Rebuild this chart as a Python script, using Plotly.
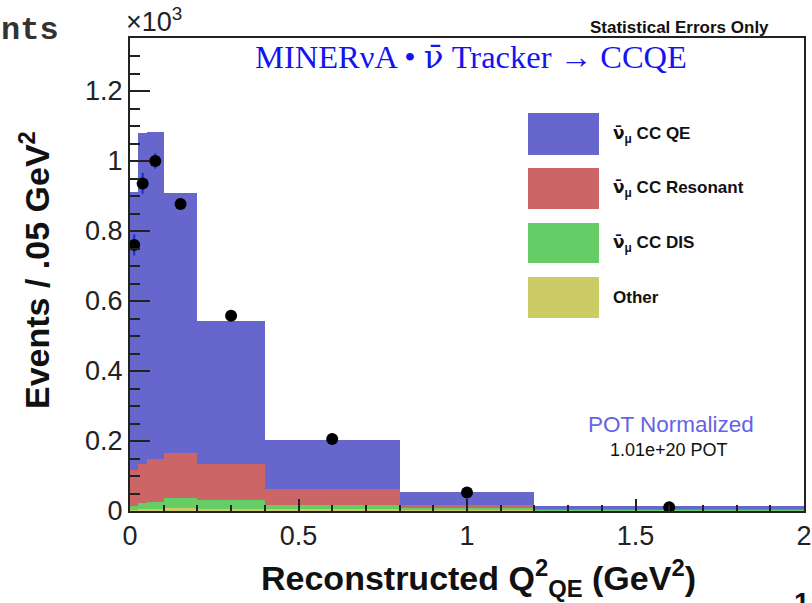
import plotly.graph_objects as go

# ---------------- data (units of 10^3 events) ----------------
bin_edges = [0.0, 0.025, 0.05, 0.1, 0.2, 0.4, 0.8, 1.2, 2.0]
qe_vals = [0.794, 0.946, 0.935, 0.742, 0.409, 0.140, 0.038, 0.008]
res_vals = [0.103, 0.112, 0.122, 0.130, 0.103, 0.046, 0.009, 0.002]
dis_vals = [0.010, 0.017, 0.021, 0.029, 0.024, 0.012, 0.005, 0.002]
other_vals = [0.004, 0.005, 0.006, 0.008, 0.007, 0.005, 0.003, 0.002]
data_vals = [0.760, 0.936, 1.000, 0.877, 0.558, 0.206, 0.053, 0.011]
data_errs = [0.030, 0.030, 0.022, 0.015, 0.011, 0.006, 0.003, 0.001]

NUBAR = '<span style="font-family:DejaVu Sans">ν̄</span>'
series_names = ["Other", NUBAR + "<sub>μ</sub> CC DIS", NUBAR + "<sub>μ</sub> CC Resonant", NUBAR + "<sub>μ</sub> CC QE"]
series_colors = ["#cccc66", "#66cc66", "#cc6666", "#6666cc"]
x_ticks = [0, 0.5, 1, 1.5, 2]
y_ticks = [0, 0.2, 0.4, 0.6, 0.8, 1, 1.2]
y_ticktext = ["0", "0.2", "0.4", "0.6", "0.8", "1", "1.2"]

centers = [(a + b) / 2 for a, b in zip(bin_edges[:-1], bin_edges[1:])]
widths = [b - a for a, b in zip(bin_edges[:-1], bin_edges[1:])]

W, H = 812, 603
L, R, T, B = 130, 8, 38, 92
PW, PH = W - L - R, H - T - B


def px(x):
    return (x - L) / PW


def py(y):
    return (H - B - y) / PH


fig = go.Figure()
for vals, name, col in zip([other_vals, dis_vals, res_vals, qe_vals], series_names, series_colors):
    fig.add_trace(go.Bar(x=centers, y=vals, width=widths, name=name,
                         marker=dict(color=col, line=dict(width=0)), showlegend=False))

fig.add_trace(go.Scatter(x=centers, y=data_vals, mode="markers",
                         marker=dict(color="black", size=12),
                         error_y=dict(type="data", array=data_errs, color="#1530d0", thickness=2, width=0),
                         showlegend=False))

font_sans = "Liberation Sans, Arial, sans-serif"
fig.update_layout(
    width=W, height=H, barmode="stack", bargap=0,
    margin=dict(l=L, r=R, t=T, b=B, autoexpand=False),
    paper_bgcolor="white", plot_bgcolor="white",
    font=dict(family=font_sans, color="#222"),
    xaxis=dict(range=[0, 2], tickvals=x_ticks, ticktext=[str(v) for v in x_ticks],
               ticks="inside", ticklen=12, tickwidth=2, tickcolor="#222",
               minor=dict(ticks="inside", ticklen=6, dtick=0.1, tickwidth=1.5, tickcolor="#222"),
               showline=True, mirror=True, linecolor="#222", linewidth=2, automargin=False,
               showgrid=False, zeroline=False, tickfont=dict(size=27, color="#222"),
               layer="above traces"),
    yaxis=dict(range=[0, PH / 350.0], tickvals=y_ticks, ticktext=y_ticktext,
               ticks="inside", ticklen=20, tickwidth=2, tickcolor="#222",
               minor=dict(ticks="inside", ticklen=10, dtick=0.05, tickwidth=1.5, tickcolor="#222"),
               showline=True, mirror=True, linecolor="#222", linewidth=2, automargin=False,
               showgrid=False, zeroline=False, tickfont=dict(size=27, color="#222"),
               layer="above traces"),
)

ann = []


def add_text(text, x, y, size, color="#111", family=font_sans, xanchor="center", yanchor="middle", angle=0):
    ann.append(dict(text=text, x=px(x), y=py(y), xref="paper", yref="paper", showarrow=False,
                    xanchor=xanchor, yanchor=yanchor, textangle=angle,
                    font=dict(size=size, color=color, family=family)))


add_text("<b>nts</b>", -1, 30, 32, color="#333", family="Liberation Mono, Courier New, monospace", xanchor="left")
add_text("×10<sup>3</sup>", 124, 20, 27, color="#222", xanchor="left")
add_text("<b>Statistical Errors Only</b>", 679, 28, 17, color="#111")
add_text('MINERνA • <span style="font-family:DejaVu Serif">ν̄</span> Tracker → CCQE', 471, 57, 32.5,
         color="#1414f0", family="Liberation Serif, Times New Roman, serif")
add_text("POT Normalized", 671, 425, 22.5, color="#6464e6")
add_text("1.01e+20 POT", 669, 450, 18, color="#111")
add_text("<b>Events / .05 GeV<sup>2</sup></b>", 34, 270, 34, color="#111", angle=-90)
add_text("<b>Reconstructed Q<sup>2</sup><sub>QE</sub> (GeV<sup>2</sup>)</b>", 479, 578, 34, color="#111")
add_text("<b>1</b>", 802, 585, 28, color="#111", yanchor="top")

# legend swatches and labels (top to bottom)
legend_rows = [(113, 155), (168, 209), (223, 263), (277, 318)]
shapes = []
for (y0, y1), name, col in zip(legend_rows, series_names[::-1], series_colors[::-1]):
    shapes.append(dict(type="rect", xref="paper", yref="paper", x0=px(528), x1=px(599), y0=py(y1), y1=py(y0),
                       fillcolor=col, line=dict(width=0), layer="above"))
    add_text("<b>" + name + "</b>", 611, (y0 + y1) / 2, 17, color="#111", xanchor="left")

fig.update_layout(annotations=ann, shapes=shapes)
fig.write_html("out.html")
